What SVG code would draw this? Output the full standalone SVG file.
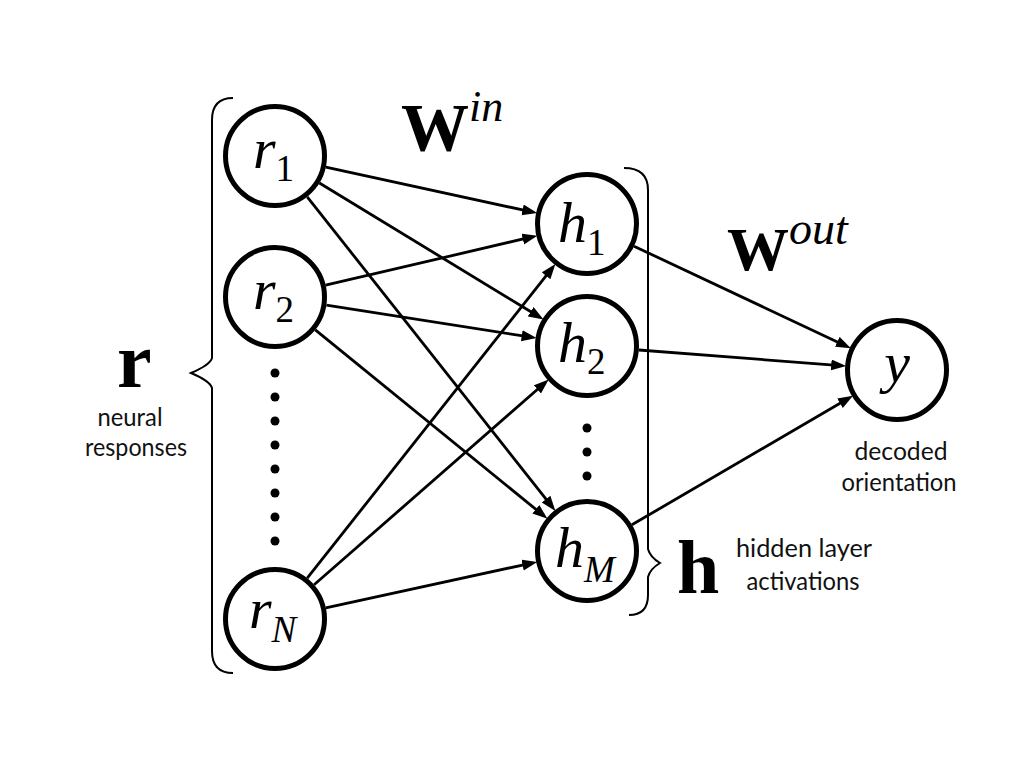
<svg xmlns="http://www.w3.org/2000/svg" width="1024" height="768" viewBox="0 0 1024 768">
<defs>
<marker id="ah" markerUnits="userSpaceOnUse" markerWidth="16" markerHeight="12" refX="6" refY="5.5" orient="auto">
<path d="M0,0 L15,5.5 L0,11 z" fill="#000"/>
</marker>
<style>
.node{fill:#fff;stroke:#000;stroke-width:5}
.lbl{font-family:"Liberation Serif","Times New Roman",serif;font-style:italic;font-size:58px;fill:#000}
.sub{font-size:37px;font-style:normal}
.subi{font-size:37px}
.edge{stroke:#000;stroke-width:2.8;fill:none;marker-end:url(#ah)}
.brace{stroke:#000;stroke-width:2;fill:none}
.bold{font-family:"Liberation Serif","Times New Roman",serif;font-weight:bold;fill:#000}
.sup{font-family:"Liberation Serif","Times New Roman",serif;font-style:italic;font-weight:normal;fill:#000}
.cap{font-family:Lato,"Open Sans",sans-serif;font-weight:400;font-size:25.5px;fill:#111}
.dot{fill:#000}
</style>
</defs>
<rect width="1024" height="768" fill="#fff"/>

<g id="connectors">
<line class="edge" x1="325.8" y1="167.1" x2="528.4" y2="211.2"/>
<line class="edge" x1="319.4" y1="183.0" x2="535.8" y2="314.8"/>
<line class="edge" x1="307.2" y1="196.8" x2="549.8" y2="503.9"/>
<line class="edge" x1="325.6" y1="285.2" x2="528.6" y2="237.7"/>
<line class="edge" x1="326.4" y1="305.1" x2="527.7" y2="336.7"/>
<line class="edge" x1="315.3" y1="329.8" x2="540.5" y2="513.1"/>
<line class="edge" x1="307.2" y1="578.2" x2="549.8" y2="271.1"/>
<line class="edge" x1="314.1" y1="584.8" x2="541.9" y2="385.5"/>
<line class="edge" x1="325.8" y1="607.9" x2="528.4" y2="563.8"/>
<line class="edge" x1="634.0" y1="246.2" x2="842.7" y2="344.4"/>
<line class="edge" x1="638.8" y1="350.0" x2="837.2" y2="365.4"/>
<line class="edge" x1="631.9" y1="524.8" x2="845.2" y2="400.3"/>
</g>

<g id="brace-r">
<path class="brace" d="M233,98 Q212,98 212,120 L212,358 Q210,365 191,373 Q210,381 212,388 L212,651 Q212,673 233,673"/>
<text class="bold" x="117" y="387" font-size="78">r</text>
<text class="cap" x="130" y="426" text-anchor="middle" textLength="65" lengthAdjust="spacingAndGlyphs">neural</text>
<text class="cap" x="136" y="456" text-anchor="middle" textLength="102" lengthAdjust="spacingAndGlyphs">responses</text>
</g>

<g id="brace-h">
<path class="brace" d="M624,168 Q648,168 648,190 L648,549 Q650,557 660,563 Q650,569 648,577 L648,595 Q648,615 629,615"/>
<text class="bold" x="677" y="593" font-size="76">h</text>
<text class="cap" x="804" y="557" text-anchor="middle" textLength="136" lengthAdjust="spacingAndGlyphs">hidden layer</text>
<text class="cap" x="803" y="590" text-anchor="middle" textLength="113" lengthAdjust="spacingAndGlyphs">activations</text>
</g>

<g id="w-in">
<text class="bold" x="401" y="150" font-size="68">W<tspan class="sup" font-size="44" dy="-29">in</tspan></text>
</g>
<g id="w-out">
<text class="bold" x="727" y="270" font-size="62">W<tspan class="sup" font-size="46" dy="-26">out</tspan></text>
</g>

<g id="dots-r">
<circle class="dot" cx="275" cy="373" r="4.5"/>
<circle class="dot" cx="275" cy="397" r="4.5"/>
<circle class="dot" cx="275" cy="421" r="4.5"/>
<circle class="dot" cx="275" cy="445" r="4.5"/>
<circle class="dot" cx="275" cy="469" r="4.5"/>
<circle class="dot" cx="275" cy="493" r="4.5"/>
<circle class="dot" cx="275" cy="517" r="4.5"/>
<circle class="dot" cx="275" cy="541" r="4.5"/>
</g>
<g id="dots-h">
<circle class="dot" cx="587" cy="428" r="4.5"/>
<circle class="dot" cx="587" cy="452" r="4.5"/>
<circle class="dot" cx="587" cy="476" r="4.5"/>
</g>

<g id="node-r1">
<circle class="node" cx="275" cy="156" r="49.5"/>
<text class="lbl" x="253" y="168">r<tspan class="sub" dy="13">1</tspan></text>
</g>
<g id="node-r2">
<circle class="node" cx="275" cy="297" r="49.5"/>
<text class="lbl" x="253" y="309">r<tspan class="sub" dy="13">2</tspan></text>
</g>
<g id="node-rN">
<circle class="node" cx="275" cy="619" r="49.5"/>
<text class="lbl" x="249" y="628">r<tspan class="subi" dy="14">N</tspan></text>
</g>
<g id="node-h1">
<circle class="node" cx="587" cy="224" r="49.5"/>
<text class="lbl" x="558" y="242">h<tspan class="sub" dy="13">1</tspan></text>
</g>
<g id="node-h2">
<circle class="node" cx="587" cy="346" r="49.5"/>
<text class="lbl" x="558" y="362">h<tspan class="sub" dy="12">2</tspan></text>
</g>
<g id="node-hM">
<circle class="node" cx="587" cy="551" r="49.5"/>
<text class="lbl" x="555" y="567">h<tspan class="subi" dy="15">M</tspan></text>
</g>
<g id="node-y">
<circle class="node" cx="897" cy="370" r="49.5"/>
<text class="lbl" x="897" y="382" text-anchor="middle">y</text>
<text class="cap" x="901" y="460" text-anchor="middle" textLength="93" lengthAdjust="spacingAndGlyphs">decoded</text>
<text class="cap" x="899" y="491" text-anchor="middle" textLength="115" lengthAdjust="spacingAndGlyphs">orientation</text>
</g>
</svg>
